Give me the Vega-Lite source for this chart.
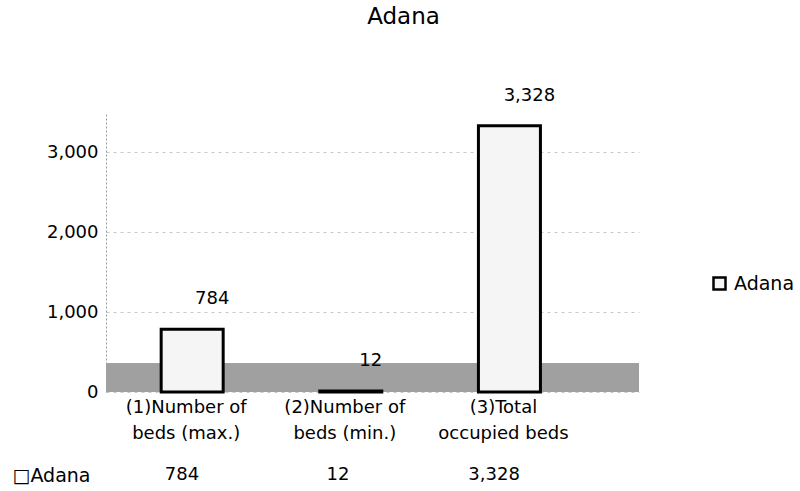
{
  "$schema": "https://vega.github.io/schema/vega-lite/v6.json",
  "padding": {"left": 12, "top": 5, "right": 5, "bottom": 5},
  "background": "#ffffff",
  "bounds": "flush",
  "spacing": 71,
  "title": {"text": "Adana", "fontSize": 23, "font": "DejaVu Sans", "fontWeight": "normal", "color": "#000000", "anchor": "middle", "offset": 58},
  "config": {
    "font": "DejaVu Sans",
    "view": {"stroke": null},
    "axis": {"labelFontSize": 18, "labelColor": "#000000", "labelFont": "DejaVu Sans"},
    "text": {"font": "DejaVu Sans"}
  },
  "datasets": {
    "beds": [
      {"category": "(1)Number of beds (max.)", "series": "Adana", "value": 784},
      {"category": "(2)Number of beds (min.)", "series": "Adana", "value": 12},
      {"category": "(3)Total occupied beds", "series": "Adana", "value": 3328}
    ]
  },
  "vconcat": [
    {
      "width": 533,
      "height": 280,
      "data": {"name": "beds"},
      "layer": [
        {
          "mark": {"type": "rect", "color": "#a0a0a0"},
          "encoding": {
            "y": {"datum": 0, "type": "quantitative", "scale": {"domain": [0, 3500], "nice": false}},
            "y2": {"datum": 360}
          }
        },
        {
          "mark": {"type": "bar", "stroke": "#000000", "strokeWidth": 3, "size": 62},
          "encoding": {
            "x": {
              "field": "category", "type": "nominal", "sort": null,
              "scale": {"paddingInner": 0, "paddingOuter": 0.18, "align": 0.12},
              "axis": {
                "title": null, "labelAngle": 0, "ticks": false, "domain": false,
                "labelPadding": 6, "labelLineHeight": 26, "labelBaseline": "top", "labelOffset": -6,
                "labelExpr": "datum.label == '(1)Number of beds (max.)' ? ['(1)Number of', 'beds (max.)'] : datum.label == '(2)Number of beds (min.)' ? ['(2)Number of', 'beds (min.)'] : ['(3)Total', 'occupied beds']"
              }
            },
            "y": {
              "field": "value", "type": "quantitative",
              "scale": {"domain": [0, 3500], "nice": false},
              "axis": {
                "title": null, "values": [0, 1000, 2000, 3000], "format": ",d",
                "ticks": false, "labelPadding": 8,
                "domainColor": "#9a9a9a", "domainDash": [2, 2],
                "grid": true, "gridColor": "#c8c8c8", "gridDash": [3, 4]
              }
            },
            "color": {
              "field": "series", "type": "nominal",
              "scale": {"range": ["#f5f5f5"]},
              "legend": {
                "title": null, "orient": "none", "legendX": 604, "legendY": 162,
                "symbolType": "square", "symbolStrokeColor": "#000000", "symbolStrokeWidth": 2.5,
                "symbolSize": 144, "symbolFillColor": "#ffffff",
                "labelFontSize": 19, "labelFont": "DejaVu Sans", "labelColor": "#000000", "labelOffset": 5
              }
            }
          }
        },
        {
          "mark": {"type": "text", "fontSize": 18, "dx": 20, "dy": -30, "color": "#000000"},
          "encoding": {
            "x": {"field": "category", "type": "nominal", "sort": null},
            "y": {"field": "value", "type": "quantitative"},
            "text": {"field": "value", "format": ",d"}
          }
        }
      ]
    },
    {
      "width": 533,
      "height": 24,
      "data": {"name": "beds"},
      "mark": {"type": "text", "fontSize": 18, "color": "#000000"},
      "encoding": {
        "x": {
          "field": "category", "type": "nominal", "sort": null,
          "scale": {"type": "point", "padding": 0.708, "align": 0.344},
          "axis": null
        },
        "y": {
          "field": "series", "type": "nominal",
          "axis": {
            "title": null, "domain": false, "ticks": false,
            "labelAlign": "left", "labelPadding": 94, "labelFontSize": 19, "labelFont": "DejaVu Sans",
            "labelExpr": "'□' + datum.label"
          }
        },
        "text": {"field": "value", "format": ",d"}
      }
    }
  ]
}
